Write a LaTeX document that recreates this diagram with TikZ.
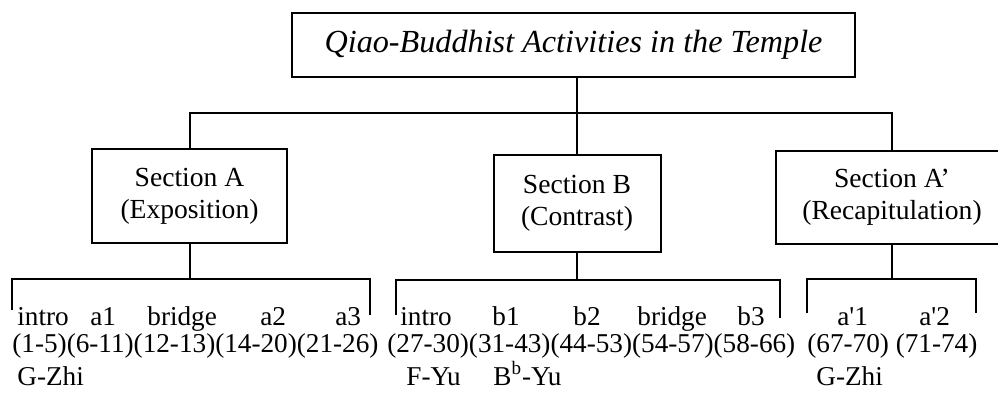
\documentclass[tikz,border=0pt]{standalone}
\usepackage{fontspec}
\setmainfont{Liberation Serif}
\tikzset{
  secbox/.style={draw, line width=1pt, align=center, inner sep=0pt, font=\fontsize{13.8}{16}\selectfont},
  lbl/.style={anchor=base west, inner sep=0pt, font=\fontsize{13.6}{16}\selectfont},
  tree/.style={line width=1pt}
}
\begin{document}
\begin{tikzpicture}[x=0.5pt, y=-0.5pt]
  \clip (0,0) rectangle (998,392);
  % Title and the three sections
  \node[secbox, minimum width=281.5pt, minimum height=32pt, font=\fontsize{16.1}{19}\selectfont\itshape] (title) at (573.5,45) {Qiao-Buddhist Activities in the Temple};
  \node[secbox, minimum width=97.5pt, minimum height=47pt] (secA) at (189.5,196) {Section A\\(Exposition)};
  \node[secbox, minimum width=83.5pt, minimum height=48.5pt] (secB) at (577,203.5) {Section B\\(Contrast)};
  \node[secbox, minimum width=116pt, minimum height=46.5pt] (secC) at (892,197.5) {Section A'\\(Recapitulation)};
  % Tree from the title down to the sections
  \coordinate (top) at (577,113);
  \draw[tree] (title.south -| top) -- (top) -- (secB.north);
  \draw[tree] (secA.north) |- (top) -| (secC.north);
  % Brackets under the sections
  \coordinate (jA) at (189.5,279);
  \coordinate (aL) at (12,310);
  \coordinate (aR) at (370,315);
  \draw[tree] (secA.south) -- (jA);
  \draw[tree] (aL) |- (jA) -| (aR);
  \coordinate (jB) at (577,280);
  \coordinate (bL) at (396,315);
  \coordinate (bR) at (780,318);
  \draw[tree] (secB.south) -- (jB);
  \draw[tree] (bL) |- (jB) -| (bR);
  \coordinate (jC) at (892,279);
  \coordinate (cL) at (807,313);
  \coordinate (cR) at (976,313);
  \draw[tree] (secC.south) -- (jC);
  \draw[tree] (cL) |- (jC) -| (cR);
  % Phrase names
  \foreach \t/\x [count=\i] in {intro/17, a1/90, bridge/147, a2/260, a3/335, intro/400, b1/492, b2/573, bridge/637, b3/737, {a\textquotesingle 1}/837, {a\textquotesingle 2}/919} {
    \node[lbl] (p\i) at (\x,325) {\t};
  }
  % Bar numbers
  \node[lbl] (barsA) at (12,352) {(1-5)(6-11)(12-13)(14-20)(21-26)};
  \node[lbl] (barsB) at (387,352) {(27-30)(31-43)(44-53)(54-57)(58-66)};
  \node[lbl] (barsC) at (807,352) {(67-70) (71-74)};
  % Keys
  \node[lbl] (keyA) at (17,385) {G-Zhi};
  \node[lbl] (keyB) at (406,385) {F-Yu};
  \node[lbl] (keyBb) at (493,385) {B\textsuperscript{b}-Yu};
  \node[lbl] (keyC) at (816,385) {G-Zhi};
\end{tikzpicture}
\end{document}
